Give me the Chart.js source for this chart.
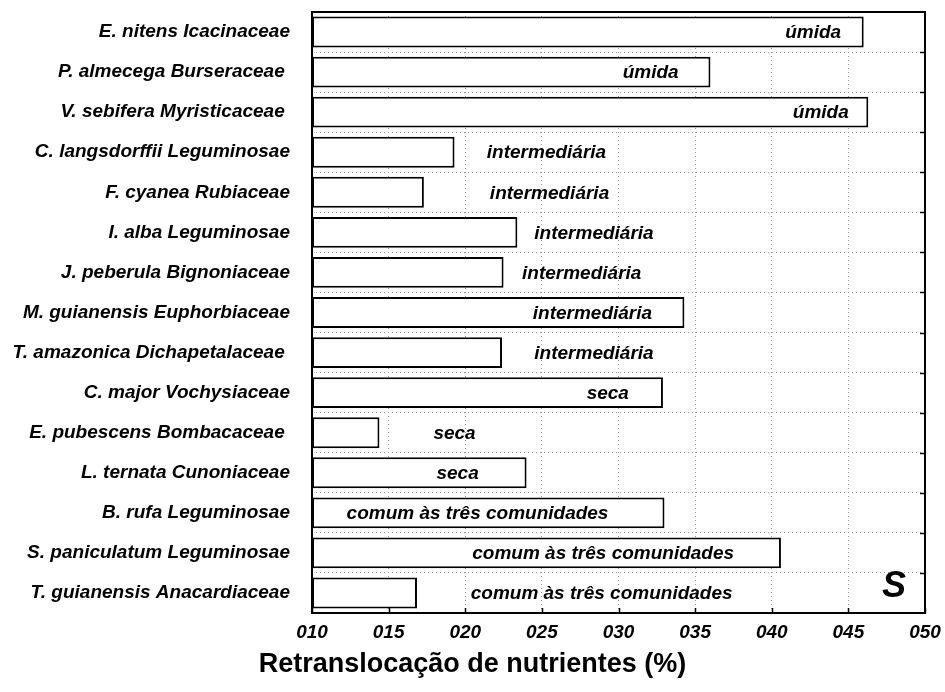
<!DOCTYPE html>
<html><head><meta charset="utf-8">
<script src="https://cdn.jsdelivr.net/npm/chart.js@4"></script>
<style>html,body{margin:0;padding:0;background:#fff}#wrap{width:945px;height:692px}</style>
</head><body><div id="wrap"><canvas id="c" width="945" height="692"></canvas></div>
<script>
const species = [
  'E. nitens Icacinaceae',
  'P. almecega Burseraceae ',
  'V. sebifera Myristicaceae ',
  'C. langsdorffii Leguminosae',
  'F. cyanea Rubiaceae',
  'I. alba Leguminosae',
  'J. peberula Bignoniaceae',
  'M. guianensis Euphorbiaceae',
  'T. amazonica Dichapetalaceae ',
  'C. major Vochysiaceae',
  'E. pubescens Bombacaceae ',
  'L. ternata Cunoniaceae',
  'B. rufa Leguminosae',
  'S. paniculatum Leguminosae',
  'T. guianensis Anacardiaceae'
];
const retranslocation = [46.0, 36.0, 46.3, 19.3, 17.3, 23.4, 22.5, 34.3, 22.4, 32.9, 14.4, 24.0, 33.0, 40.6, 16.85];
const community = [
  'úmida','úmida','úmida',
  'intermediária','intermediária','intermediária','intermediária','intermediária','intermediária',
  'seca','seca','seca',
  'comum às três comunidades','comum às três comunidades','comum às três comunidades'
];
const communityLabelAt = [42.7, 32.1, 43.2, 25.3, 25.5, 28.4, 27.6, 28.3, 28.4, 29.3, 19.3, 19.5, 20.8, 29.0, 28.9];
const xTickValues = [10, 15, 20, 25, 30, 35, 40, 45, 50];
const xTickLabels = ['010','015','020','025','030','035','040','045','050'];
const panelLetter = 'S';
const axisTitle = 'Retranslocação de nutrientes (%)';

const FAM = '"Liberation Sans", Arial, sans-serif';

const overlay = {
  id: 'overlay',
  afterDatasetsDraw(chart) {
    const {ctx, chartArea: a, scales: {x, y}} = chart;
    ctx.save();
    ctx.fillStyle = '#000';
    ctx.font = 'italic bold 19px ' + FAM;
    ctx.textAlign = 'center';
    ctx.textBaseline = 'middle';
    community.forEach((t, i) => {
      ctx.fillText(t, x.getPixelForValue(communityLabelAt[i]), y.getPixelForValue(i) + 1);
    });
    ctx.strokeStyle = '#000';
    ctx.lineWidth = 2;
    ctx.strokeRect(a.left, a.top, a.right - a.left, a.bottom - a.top);
    ctx.lineWidth = 1.5;
    xTickValues.forEach(v => {
      const px = Math.round(x.getPixelForValue(v)) + 0.5;
      ctx.beginPath(); ctx.moveTo(px, a.bottom); ctx.lineTo(px, a.bottom - 5); ctx.stroke();
    });
    for (let i = 0; i < species.length - 1; i++) {
      const py = Math.round((y.getPixelForValue(i) + y.getPixelForValue(i + 1)) / 2) + 0.5;
      ctx.beginPath(); ctx.moveTo(a.right, py); ctx.lineTo(a.right - 5, py); ctx.stroke();
    }
    ctx.font = 'italic bold 36px ' + FAM;
    ctx.textAlign = 'right';
    ctx.textBaseline = 'alphabetic';
    ctx.fillText(panelLetter, a.right - 19, a.bottom - 16);
    ctx.font = 'bold 27px ' + FAM;
    ctx.textAlign = 'center';
    ctx.textBaseline = 'middle';
    ctx.fillText(axisTitle, chart.width / 2, 665);
    ctx.restore();
  }
};

new Chart(document.getElementById('c'), {
  type: 'bar',
  data: {
    labels: species,
    datasets: [{
      data: retranslocation.map(v => [10, v]),
      backgroundColor: '#fff',
      borderColor: '#000',
      borderWidth: 2,
      borderSkipped: false,
      barPercentage: 0.77,
      categoryPercentage: 1.0
    }]
  },
  options: {
    indexAxis: 'y',
    responsive: false,
    animation: false,
    layout: { padding: { top: 12, right: 20, left: 0, bottom: 0 } },
    plugins: {
      legend: { display: false },
      tooltip: { enabled: false },
      title: { display: false }
    },
    scales: {
      x: {
        type: 'linear',
        min: 10, max: 50,
        afterBuildTicks(scale) { scale.ticks = xTickValues.map(v => ({ value: v })); },
        afterFit(scale) { scale.height = 79; scale.paddingLeft = 0; scale.paddingRight = 0; },
        ticks: {
          color: '#000',
          padding: 8,
          font: { family: FAM, size: 19, weight: 'bold', style: 'italic' },
          callback: (v) => xTickLabels[xTickValues.indexOf(v)]
        },
        grid: { color: '#999', lineWidth: 1, drawTicks: false },
        border: { display: false, dash: [1, 3] }
      },
      y: {
        type: 'category',
        afterFit(scale) { scale.width = 312; scale.paddingTop = 0; scale.paddingBottom = 0; },
        ticks: {
          color: '#000',
          padding: 22,
          font: { family: FAM, size: 19, weight: 'bold', style: 'italic' }
        },
        grid: { color: '#999', lineWidth: 1, drawTicks: false, offset: true },
        border: { display: false, dash: [1, 3] }
      }
    }
  },
  plugins: [overlay]
});
</script>
</body></html>
